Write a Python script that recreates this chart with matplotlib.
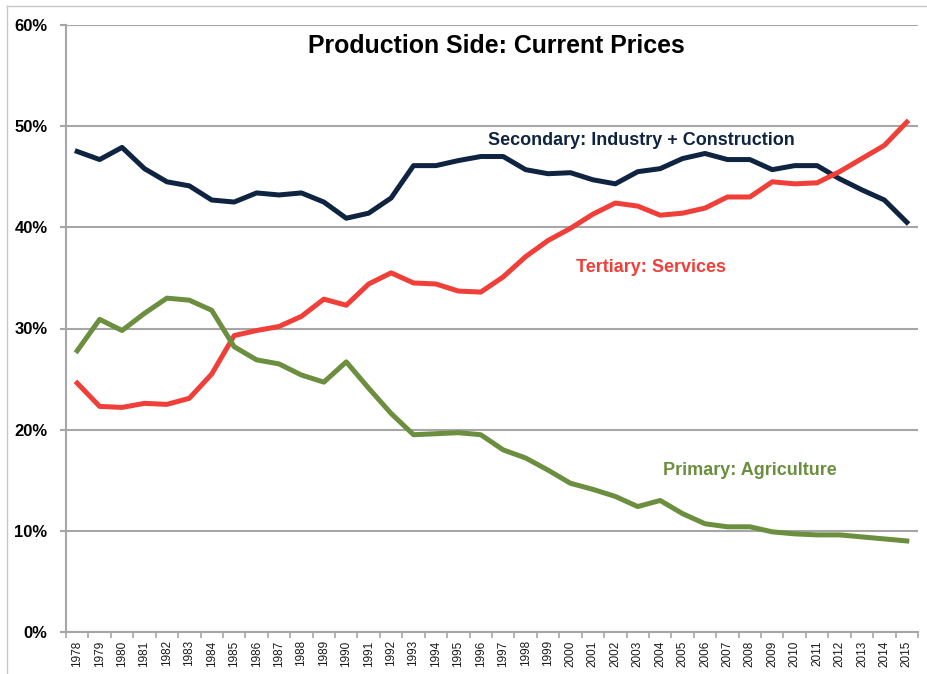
import matplotlib.pyplot as plt
from matplotlib.lines import Line2D
from matplotlib.ticker import FixedLocator, FuncFormatter

years = list(range(1978, 2016))

secondary = [47.5, 46.7, 47.9, 45.8, 44.5, 44.1, 42.7, 42.5, 43.4, 43.2,
             43.4, 42.5, 40.9, 41.4, 42.9, 46.1, 46.1, 46.6, 47.0, 47.0,
             45.7, 45.3, 45.4, 44.7, 44.3, 45.5, 45.8, 46.8, 47.3, 46.7,
             46.7, 45.7, 46.1, 46.1, 44.8, 43.7, 42.7, 40.5]
tertiary = [24.6, 22.3, 22.2, 22.6, 22.5, 23.1, 25.5, 29.3, 29.8, 30.2,
            31.2, 32.9, 32.3, 34.4, 35.5, 34.5, 34.4, 33.7, 33.6, 35.1,
            37.1, 38.7, 39.9, 41.3, 42.4, 42.1, 41.2, 41.4, 41.9, 43.0,
            43.0, 44.5, 44.3, 44.4, 45.5, 46.8, 48.1, 50.4]
primary = [27.8, 30.9, 29.8, 31.5, 33.0, 32.8, 31.8, 28.2, 26.9, 26.5,
           25.4, 24.7, 26.7, 24.1, 21.6, 19.5, 19.6, 19.7, 19.5, 18.0,
           17.2, 16.0, 14.7, 14.1, 13.4, 12.4, 13.0, 11.7, 10.7, 10.4,
           10.4, 9.9, 9.7, 9.6, 9.6, 9.4, 9.2, 9.0]

NAVY = "#0e2441"
RED = "#f03f38"
GREEN = "#6b8f3e"
GRID = "#a6a6a6"

plt.rcParams["font.family"] = ["Liberation Sans", "DejaVu Sans"]

fig = plt.figure(figsize=(9.28, 6.74), dpi=100)
ax = fig.add_axes([66 / 928, 42 / 674, 852 / 928, 607 / 674])

x = list(range(len(years)))
ax.plot(x, secondary, color=NAVY, lw=3.6, solid_joinstyle="round")
ax.plot(x, tertiary, color=RED, lw=3.6, solid_joinstyle="round")
ax.plot(x, primary, color=GREEN, lw=3.6, solid_joinstyle="round")

ax.set_xlim(-0.5, len(years) - 0.5)
ax.set_ylim(0, 60)
ax.set_yticks(range(0, 61, 10))
ax.yaxis.set_major_formatter(FuncFormatter(lambda v, _: f"{v:.0f}%"))
ax.grid(axis="y", color=GRID, lw=1.5)
ax.set_axisbelow(True)

ax.set_xticks(x)
ax.set_xticklabels([str(y) for y in years], rotation=90, fontsize=8.5,
                   color="#1a1a1a")
ax.xaxis.set_minor_locator(FixedLocator([i - 0.5 for i in range(len(years) + 1)]))
ax.tick_params(axis="x", which="major", length=0, pad=6)
ax.tick_params(axis="x", which="minor", length=4, color=GRID, width=1.2)
ax.tick_params(axis="y", length=4.3, color=GRID, width=1.5, pad=9)
for lbl in ax.get_yticklabels():
    lbl.set_fontweight("bold")
    lbl.set_fontsize(12)

for side in ("top", "right"):
    ax.spines[side].set_visible(False)
for side in ("left", "bottom"):
    ax.spines[side].set_color(GRID)
    ax.spines[side].set_linewidth(1.5)

ax.text(0.505, 0.965, "Production Side: Current Prices", transform=ax.transAxes,
        ha="center", va="center", fontsize=17.9, fontweight="bold", color="black")
ax.text(25.15, 48.6, "Secondary: Industry + Construction", ha="center",
        va="center", fontsize=13, fontweight="bold", color=NAVY)
ax.text(25.6, 36.0, "Tertiary: Services", ha="center", va="center",
        fontsize=13, fontweight="bold", color=RED)
ax.text(30.0, 16.0, "Primary: Agriculture", ha="center", va="center",
        fontsize=13, fontweight="bold", color=GREEN)

# thin frame of the original screenshot
fig.add_artist(Line2D([7 / 928, 7 / 928], [0, 1 - 6 / 674], color="#c8c8c8", lw=1))
fig.add_artist(Line2D([7 / 928, 1], [1 - 6 / 674, 1 - 6 / 674], color="#c8c8c8", lw=1))

fig.savefig("out.png", dpi=100)
